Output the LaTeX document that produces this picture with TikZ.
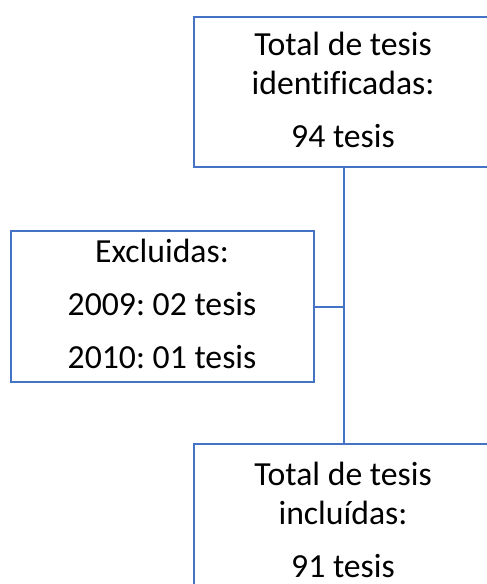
\documentclass[tikz,border=0pt]{standalone}
\usepackage{fontspec}
\setmainfont[Ligatures={NoCommon}]{Carlito}
\definecolor{boxblue}{HTML}{4472C4}
\begin{document}
\frenchspacing
\begin{tikzpicture}[x=1pt,y=-1pt,
  box/.style={draw=boxblue, line width=2.4pt, fill=none, inner sep=0pt, anchor=north west},
  txt/.style={anchor=base, inner sep=0pt, font=\fontsize{33.7}{40}\selectfont},
  conn/.style={draw=boxblue, line width=2.4pt}]
\useasboundingbox (0,0) rectangle (487,584);
\node[box, minimum width=300pt, minimum height=150pt] (top) at (193,16) {};
\node[box, minimum width=303pt, minimum height=151pt] (excl) at (10,230) {};
\node[box, minimum width=300pt, minimum height=160pt] (incl) at (193,443) {};
\node[txt] (t1) at (343,55) {Total de tesis};
\node[txt] (t2) at (343,94) {identificadas:};
\node[txt] (t3) at (343,147) {94 tesis};
\node[txt] (e1) at (162,262) {Excluidas:};
\node[txt] (e2) at (162,315) {2009: 02 tesis};
\node[txt] (e3) at (162,368) {2010: 01 tesis};
\node[txt] (i1) at (343,485) {Total de tesis};
\node[txt] (i2) at (343,524) {incluídas:};
\node[txt] (i3) at (343,577) {91 tesis};
\draw[conn] (top.south) -- (incl.north);
\draw[conn] (excl.east) -- (excl.east -| top.south);
\end{tikzpicture}
\end{document}
